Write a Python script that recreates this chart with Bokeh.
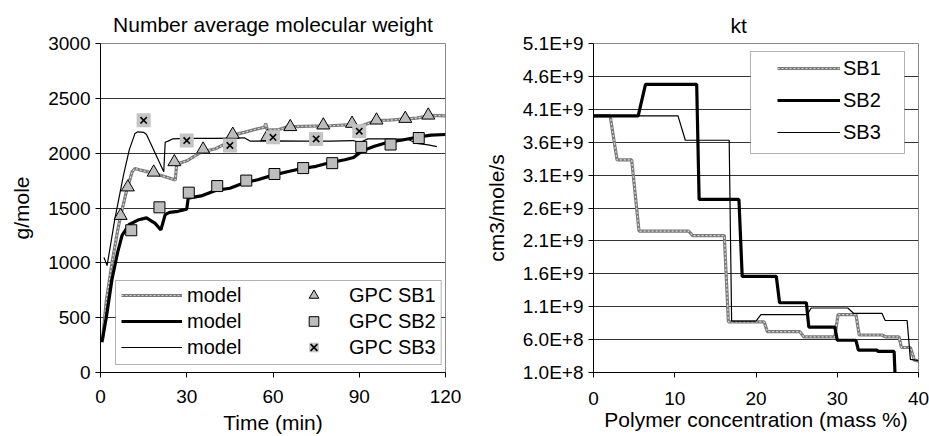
from bokeh.plotting import figure
from bokeh.models import Legend, LegendItem, BoxAnnotation, FixedTicker, Range1d
from bokeh.layouts import row
from bokeh.embed import file_html
from bokeh.resources import INLINE

# ---------------- Left chart: number average molecular weight ----------------
sb1_t = [0.7, 2, 4, 6, 7, 9, 11, 12, 14, 18, 22, 26, 26.5, 30, 35, 40, 43, 44.5, 46, 50,
         55, 57, 57.5, 58, 62, 65, 70, 80, 87, 88, 90, 96, 100, 105, 110, 115, 120]
sb1_mn = [300, 650, 1000, 1300, 1430, 1650, 1830, 1860, 1845, 1820, 1790, 1755, 1900, 1930,
          2010, 2040, 2080, 2150, 2165, 2190, 2225, 2235, 2270, 2210, 2215, 2240, 2245, 2250,
          2260, 2235, 2240, 2300, 2300, 2310, 2320, 2345, 2340]

sb2_t = [0.5, 2, 4, 6, 7.5, 10, 13, 16, 19, 21, 22.5, 24, 27, 30, 30.5, 35, 40, 45, 50, 55,
         60, 65, 70, 75, 80, 85, 88, 90, 92, 95, 100, 105, 110, 115, 120]
sb2_mn = [275, 500, 850, 1100, 1250, 1350, 1390, 1410, 1360, 1300, 1440, 1460, 1470, 1490,
          1590, 1610, 1660, 1680, 1730, 1760, 1800, 1830, 1860, 1880, 1915, 1940, 1960, 2000,
          2030, 2060, 2100, 2120, 2145, 2165, 2170]

sb3_t = [1.2, 2.3, 5, 8, 10, 12, 13, 15, 16, 22, 22.5, 23.5, 25, 30, 40, 50, 52, 60, 70, 80,
         88, 90, 93, 100, 107, 110, 114, 117]
sb3_mn = [1050, 975, 1400, 1800, 2030, 2180, 2195, 2190, 2170, 1830, 2100, 2110, 2130, 2135,
          2135, 2140, 2110, 2112, 2110, 2110, 2115, 2095, 2130, 2130, 2125, 2090, 2075, 2060]

gpc1_t = [7, 9.5, 18.5, 25.7, 35.7, 46, 58, 66, 77.5, 87.5, 96, 106, 114]
gpc1_mn = [1430, 1690, 1825, 1920, 2035, 2170, 2150, 2240, 2255, 2270, 2300, 2315, 2345]

gpc2_t = [10.7, 20.5, 30.7, 40.6, 50.7, 60.5, 70.5, 80.6, 90.7, 100.9, 110.7]
gpc2_mn = [1297, 1506, 1640, 1700, 1750, 1810, 1864, 1909, 2057, 2079, 2138]

gpc3_t = [15, 30, 45, 60, 75, 90]
gpc3_mn = [2300, 2115, 2070, 2145, 2130, 2200]

mn_xticks = [0, 30, 60, 90, 120]
mn_yticks = [0, 500, 1000, 1500, 2000, 2500, 3000]

# ---------------- Right chart: kt ----------------
kt1_c = [0, 2.05, 2.9, 4.7, 5.6, 11.7, 12.2, 16.1, 16.6, 21.0, 21.4, 25.4, 25.9, 29.7, 30.1,
         32.3, 32.7, 35.5, 36.0, 37.6, 37.9, 39.0, 39.5, 40]
kt1 = [4.0e9, 4.0e9, 3.33e9, 3.33e9, 2.25e9, 2.25e9, 2.18e9, 2.18e9, 0.87e9, 0.87e9, 0.72e9,
       0.72e9, 0.64e9, 0.64e9, 0.98e9, 0.98e9, 0.67e9, 0.67e9, 0.64e9, 0.64e9, 0.48e9, 0.48e9,
       0.29e9, 0.27e9]

kt2_c = [0, 5.5, 6.4, 12.7, 13.0, 17.9, 18.3, 22.5, 22.9, 26.2, 26.5, 29.7, 30.0, 32.3, 32.6,
         34.9, 35.0, 37.0, 37.1]
kt2 = [4.0e9, 4.0e9, 4.48e9, 4.48e9, 2.73e9, 2.73e9, 1.56e9, 1.56e9, 1.16e9, 1.16e9, 0.79e9,
       0.79e9, 0.59e9, 0.59e9, 0.44e9, 0.44e9, 0.42e9, 0.42e9, 0.10e9]

kt3_c = [0, 10.4, 11.3, 16.7, 17.0, 20.0, 20.6, 26.3, 26.8, 31.3, 32.0, 35.5, 35.9, 38.6,
         39.0, 40]
kt3 = [4.0e9, 4.0e9, 3.63e9, 3.63e9, 0.88e9, 0.88e9, 0.98e9, 0.98e9, 1.08e9, 1.08e9, 1.0e9,
       1.0e9, 0.89e9, 0.89e9, 0.30e9, 0.28e9]

kt_xticks = [0, 10, 20, 30, 40]
kt_yticks = [100000000, 600000000, 1100000000, 1600000000, 2100000000, 2600000000,
             3100000000, 3600000000, 4100000000, 4600000000, 5100000000]
kt_ylabels = ["1.0E+8", "6.0E+8", "1.1E+9", "1.6E+9", "2.1E+9", "2.6E+9",
              "3.1E+9", "3.6E+9", "4.1E+9", "4.6E+9", "5.1E+9"]

FONT = "Liberation Sans"
GRID = "#333333"
OUTLINE = "#8a8a8a"
DOT_BASE = "#7a7a7a"
DOT_TOP = "#d8d8d8"
MARK_FILL = "#bdbdbd"


def style(p, xticks, yticks, xlabel, ylabel):
    p.title.text_font = FONT
    p.title.text_font_size = "21px"
    p.title.text_font_style = "normal"
    p.title.text_color = "black"
    p.xaxis.ticker = FixedTicker(ticks=xticks)
    p.yaxis.ticker = FixedTicker(ticks=yticks)
    p.xaxis.axis_label = xlabel
    p.yaxis.axis_label = ylabel
    for ax in (p.xaxis[0], p.yaxis[0]):
        ax.axis_line_color = "black"
        ax.major_tick_line_color = "black"
        ax.major_tick_out = 5
        ax.major_tick_in = 0
        ax.minor_tick_line_color = None
        ax.major_label_text_font = FONT
        ax.major_label_text_font_size = "19px"
        ax.major_label_text_color = "black"
        ax.axis_label_text_font = FONT
        ax.axis_label_text_font_size = "21px"
        ax.axis_label_text_font_style = "normal"
        ax.axis_label_text_color = "black"
        ax.major_label_standoff = 5
    p.yaxis.axis_label_standoff = 12
    p.xgrid.visible = False
    p.ygrid.grid_line_color = GRID
    p.ygrid.grid_line_width = 1
    p.outline_line_color = OUTLINE
    p.outline_line_width = 1
    p.background_fill_color = "white"
    p.border_fill_color = "white"


# ---------------- left figure ----------------
p1 = figure(width=470, height=436, x_range=Range1d(0, 120), y_range=Range1d(0, 3000),
            output_backend="svg", toolbar_location=None,
            min_border_left=100, min_border_right=25, min_border_top=40, min_border_bottom=60,
            title="Number average molecular weight")
style(p1, mn_xticks, mn_yticks, "Time (min)", "g/mole")
p1.title.align = "center"
p1.title.standoff = 16
p1.xaxis.major_label_standoff = 12
p1.xaxis.axis_label_standoff = 5

r1a = p1.line(sb1_t, sb1_mn, line_color=DOT_BASE, line_width=3.2)
r1b = p1.line(sb1_t, sb1_mn, line_color=DOT_TOP, line_width=1.2, line_dash="2 2")
r2 = p1.line(sb2_t, sb2_mn, line_color="black", line_width=3.2)
r3 = p1.line(sb3_t, sb3_mn, line_color="black", line_width=1.2)

m1 = p1.scatter(gpc1_t, gpc1_mn, marker="triangle", size=13, fill_color=MARK_FILL,
                line_color="black", line_width=1)
m2 = p1.scatter(gpc2_t, gpc2_mn, marker="square", size=11, fill_color=MARK_FILL,
                line_color="black", line_width=1)
m3a = p1.scatter(gpc3_t, gpc3_mn, marker="square", size=14, fill_color="#c4c4c4",
                 line_color=None)
m3b = p1.scatter(gpc3_t, gpc3_mn, marker="x", size=9, line_color="black", line_width=1.6)

box1 = BoxAnnotation(left=15, right=340.7, bottom=8, top=92,
                     left_units="screen", right_units="screen",
                     bottom_units="screen", top_units="screen",
                     fill_color="white", fill_alpha=1, line_color="black", line_width=1)
p1.add_layout(box1)

leg1 = Legend(items=[
    LegendItem(label="model", renderers=[r1a, r1b]),
    LegendItem(label="model", renderers=[r2]),
    LegendItem(label="model", renderers=[r3]),
    LegendItem(label="GPC SB1", renderers=[m1]),
    LegendItem(label="GPC SB2", renderers=[m2]),
    LegendItem(label="GPC SB3", renderers=[m3a, m3b]),
], ncols=2, location=(21, 13), glyph_width=61, glyph_height=24, spacing=2, padding=0,
    margin=0, label_standoff=5, label_width=94, label_height=24,
    label_text_font=FONT, label_text_font_size="20px", label_text_color="black",
    border_line_color=None, background_fill_alpha=0)
p1.add_layout(leg1)

# ---------------- right figure ----------------
p2 = figure(width=459, height=436, x_range=Range1d(0, 40), y_range=Range1d(1e8, 5.1e9),
            output_backend="svg", toolbar_location=None,
            min_border_left=123, min_border_right=11, min_border_top=43, min_border_bottom=62,
            title="kt")
style(p2, kt_xticks, kt_yticks, "Polymer concentration (mass %)", "cm3/mole/s")
p2.title.align = "left"
p2.title.offset = 137
p2.title.standoff = 13
p2.xaxis.major_label_standoff = 14
p2.xaxis.axis_label_standoff = 0
p2.yaxis.major_label_overrides = {t: s for t, s in zip(kt_yticks, kt_ylabels)}

k1a = p2.line(kt1_c, kt1, line_color=DOT_BASE, line_width=3.2)
k1b = p2.line(kt1_c, kt1, line_color=DOT_TOP, line_width=1.2, line_dash="2 2")
k2 = p2.line(kt2_c, kt2, line_color="black", line_width=3.2)
k3 = p2.line(kt3_c, kt3, line_color="black", line_width=1.2)

box2 = BoxAnnotation(left=157, right=311, bottom=219, top=321,
                     left_units="screen", right_units="screen",
                     bottom_units="screen", top_units="screen",
                     fill_color="white", fill_alpha=1, line_color="black", line_width=1)
p2.add_layout(box2)

leg2 = Legend(items=[
    LegendItem(label="SB1", renderers=[k1a, k1b]),
    LegendItem(label="SB2", renderers=[k2]),
    LegendItem(label="SB3", renderers=[k3]),
], location=(184, 226), glyph_width=63, glyph_height=28, spacing=4, padding=0, margin=0,
    label_standoff=3, label_height=28,
    label_text_font=FONT, label_text_font_size="20px", label_text_color="black",
    border_line_color=None, background_fill_alpha=0)
p2.add_layout(leg2)

layout = row(p1, p2)
open("out.html", "w").write(file_html(layout, INLINE))
